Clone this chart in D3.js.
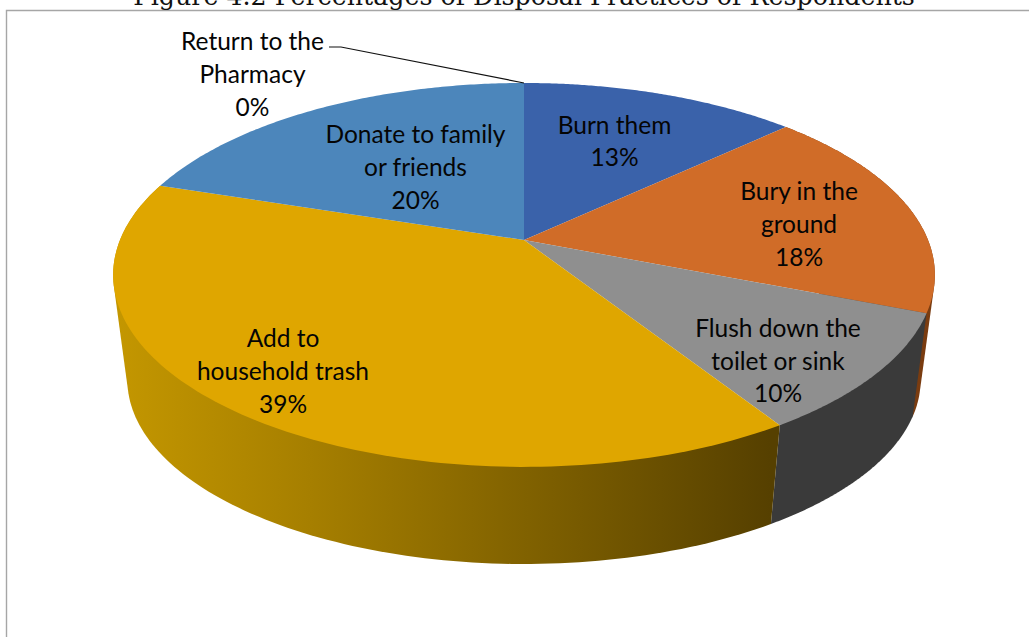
<!DOCTYPE html>
<html>
<head>
<meta charset="utf-8">
<script src="https://cdn.jsdelivr.net/npm/d3@7"></script>
<style>
html, body { margin: 0; padding: 0; background: #fff; overflow: hidden; }
svg { display: block; }
</style>
</head>
<body>
<svg id="chart" width="1029" height="637"></svg>
<script>
const titleText = "Figure 4.2 Percentages of Disposal Practices of Respondents";
const categories = ["Burn them", "Bury in the ground", "Flush down the toilet or sink", "Add to household trash", "Donate to family or friends", "Return to the Pharmacy"];
const shares = [13, 18, 10, 39, 20, 0];
const topColors = ["#3a62aa", "#d06c28", "#8f8f8f", "#dfa600", "#4c86bb", "#2a4d7c"];
const sideColors = ["#2b4a80", "#7a3c10", "#3a3a3a", "url(#goldSide)", "#305c85", "#203a5e"];
const labelLines = [
  ["Burn them", "13%"],
  ["Bury in the", "ground", "18%"],
  ["Flush down the", "toilet or sink", "10%"],
  ["Add to", "household trash", "39%"],
  ["Donate to family", "or friends", "20%"],
  ["Return to the", "Pharmacy", "0%"]
];
const labelCentres = [[614.5, 142.5], [799, 225.5], [778, 362], [283, 372.5], [415.5, 168.5], [252.5, 75.5]];

const svg = d3.select("#chart");
const tilt = 0.182;

// Perspective projection of a disc onto the page: v grows toward the viewer.
const discTop = { cx: 524, cy: 240, k: 404, m: 185.6 };
const discBottom = { cx: 524, cy: 346.4, k: 390, m: 178 };
function project(disc, a) {
  const u = Math.sin(a), v = -Math.cos(a), w = 1 - tilt * v;
  return [disc.cx + disc.k * u / w, disc.cy + disc.m * v / w];
}

const pie = d3.pie().sort(null).value(d => d);
const slices = pie(shares);
const line = d3.line();
const arcPoints = (disc, a0, a1) =>
  d3.range(0, 121).map(i => project(disc, a0 + (a1 - a0) * i / 120));

// Horizontal shading on the wall of the largest slice.
const defs = svg.append("defs");
const grad = defs.append("linearGradient").attr("id", "goldSide")
  .attr("gradientUnits", "userSpaceOnUse")
  .attr("x1", 113).attr("x2", 770).attr("y1", 0).attr("y2", 0);
grad.append("stop").attr("offset", 0).attr("stop-color", "#c49700");
grad.append("stop").attr("offset", 0.3).attr("stop-color", "#a67f00");
grad.append("stop").attr("offset", 1).attr("stop-color", "#564000");

// Chart frame: left and top edges only, running off the page.
const border = d3.path();
border.moveTo(6.5, 637); border.lineTo(6.5, 10.5); border.lineTo(1029, 10.5);
svg.append("path").attr("d", border.toString()).attr("fill", "none").attr("stroke", "#a6a6a6").attr("stroke-width", 1.4);

svg.append("text").attr("x", 524).attr("y", 5)
  .attr("text-anchor", "middle")
  .style("font-family", "'DejaVu Serif'").style("font-size", "25.3px").attr("fill", "#111")
  .text(titleText);

// Walls first, from the back of the disc to the front, then the top faces.
// Each wall is the hull of its two arcs, which also covers the tangent silhouette.
const wallOrder = [1, 2, 3];
svg.append("g").selectAll("path").data(wallOrder).join("path")
  .attr("d", i => {
    const s = slices[i];
    const pts = arcPoints(discTop, s.startAngle, s.endAngle)
      .concat(arcPoints(discBottom, s.startAngle, s.endAngle));
    return line(d3.polygonHull(pts)) + "Z";
  })
  .attr("fill", i => sideColors[i]);

svg.append("g").selectAll("path").data(slices).join("path")
  .attr("d", s => {
    const pts = [[discTop.cx, discTop.cy]].concat(arcPoints(discTop, s.startAngle, s.endAngle));
    return line(pts) + "Z";
  })
  .attr("fill", (s, i) => topColors[i]);

// Leader from the empty slice to its label.
const tip = project(discTop, slices[5].startAngle);
svg.append("path").attr("d", line([[329, 47], [341, 47], tip]))
  .attr("fill", "none").attr("stroke", "#111").attr("stroke-width", 1.2);

const labels = svg.append("g")
  .style("font-family", "Lato").style("font-size", "24.5px").attr("fill", "#050505");
labelLines.forEach((rows, i) => {
  const [x, y] = labelCentres[i];
  rows.forEach((row, r) => {
    labels.append("text").attr("x", x)
      .attr("y", y + (r - (rows.length - 1) / 2) * 32.8 + 7.5)
      .attr("text-anchor", "middle").text(row);
  });
});
</script>
</body>
</html>
